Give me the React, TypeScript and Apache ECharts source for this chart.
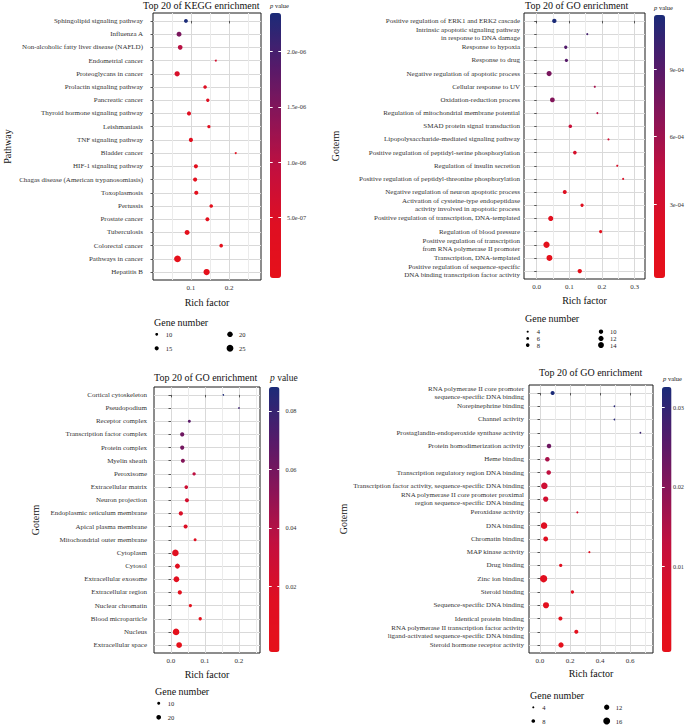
import React, { useEffect, useRef } from 'react';
import * as echarts from 'echarts';

const FONT = '"Liberation Serif", "Times New Roman", serif';
const STOPS = ['#e6101a', '#df0f22', '#c40f3d', '#8d1456', '#551a6a', '#1b2b78'];

// ---------- Panel 1 : KEGG ----------
const keggTerms = [
  'Sphingolipid signaling pathway', 'Influenza A', 'Non-alcoholic fatty liver disease (NAFLD)', 'Endometrial cancer',
  'Proteoglycans in cancer', 'Prolactin signaling pathway', 'Pancreatic cancer', 'Thyroid hormone signaling pathway',
  'Leishmaniasis', 'TNF signaling pathway', 'Bladder cancer', 'HIF-1 signaling pathway',
  'Chagas disease (American trypanosomiasis)', 'Toxoplasmosis', 'Pertussis', 'Prostate cancer',
  'Tuberculosis', 'Colorectal cancer', 'Pathways in cancer', 'Hepatitis B',
];
const keggRich = [0.087, 0.069, 0.072, 0.165, 0.064, 0.137, 0.144, 0.095, 0.147, 0.100, 0.217, 0.113, 0.111, 0.114, 0.153, 0.143, 0.090, 0.179, 0.065, 0.141];
const keggGenes = [14, 18, 17, 7, 19, 13, 12, 15, 12, 15, 7, 15, 15, 15, 13, 14, 18, 13, 25, 23];
const keggP = [2.35e-6, 1.55e-6, 1.0e-6, 6.5e-7, 5.5e-7, 4.5e-7, 4.0e-7, 3.5e-7, 3.0e-7, 2.7e-7, 2.4e-7, 2.0e-7, 1.8e-7, 1.5e-7, 1.2e-7, 1.0e-7, 8e-8, 6e-8, 3e-8, 1e-8];
const keggXMajor = [0.1, 0.2];
const keggXMinor = [0.05, 0.15, 0.25];
const keggPTicks = [5e-7, 1e-6, 1.5e-6, 2e-6];
const keggPLabels = ['5.0e-07', '1.0e-06', '1.5e-06', '2.0e-06'];
const keggSizeLegend = [10, 15, 20, 25];

// ---------- Panel 2 : GO (biological process) ----------
const bpTerms = [
  'Positive regulation of ERK1 and ERK2 cascade',
  'Intrinsic apoptotic signaling pathway\nin response to DNA damage',
  'Response to hypoxia', 'Response to drug', 'Negative regulation of apoptotic process', 'Cellular response to UV',
  'Oxidation-reduction process', 'Regulation of mitochondrial membrane potential', 'SMAD protein signal transduction',
  'Lipopolysaccharide-mediated signaling pathway', 'Positive regulation of peptidyl-serine phosphorylation',
  'Regulation of insulin secretion', 'Positive regulation of peptidyl-threonine phosphorylation',
  'Negative regulation of neuron apoptotic process',
  'Activation of cysteine-type endopeptidase\nactivity involved in apoptotic process',
  'Positive regulation of transcription, DNA-templated', 'Regulation of blood pressure',
  'Positive regulation of transcription\nfrom RNA polymerase II promoter', 'Transcription, DNA-templated',
  'Positive regulation of sequence-specific\nDNA binding transcription factor activity',
];
const bpRich = [0.054, 0.155, 0.089, 0.091, 0.038, 0.178, 0.048, 0.186, 0.103, 0.220, 0.117, 0.247, 0.265, 0.086, 0.139, 0.043, 0.196, 0.030, 0.039, 0.132];
const bpGenes = [10, 4, 7, 7, 12, 4, 11, 4, 8, 4, 8, 4, 4, 9, 7, 12, 7, 15, 14, 10];
const bpP = [1.14e-3, 9.8e-4, 9.2e-4, 9.0e-4, 7.6e-4, 5.8e-4, 7.2e-4, 4.8e-4, 4.0e-4, 3.4e-4, 2.8e-4, 2.6e-4, 2.5e-4, 1.9e-4, 1.6e-4, 9e-5, 7e-5, 3e-5, 1.5e-5, 5e-6];
const bpXMajor = [0, 0.1, 0.2, 0.3];
const bpXMinor = [0.05, 0.15, 0.25];
const bpPTicks = [3e-4, 6e-4, 9e-4];
const bpPLabels = ['3e-04', '6e-04', '9e-04'];
const bpSizeLegend = [4, 6, 8, 10, 12, 14];

// ---------- Panel 3 : GO (cellular component) ----------
const ccTerms = [
  'Cortical cytoskeleton', 'Pseudopodium', 'Receptor complex', 'Transcription factor complex', 'Protein complex',
  'Myelin sheath', 'Peroxisome', 'Extracellular matrix', 'Neuron projection', 'Endoplasmic reticulum membrane',
  'Apical plasma membrane', 'Mitochondrial outer membrane', 'Cytoplasm', 'Cytosol', 'Extracellular exosome',
  'Extracellular region', 'Nuclear chromatin', 'Blood microparticle', 'Nucleus', 'Extracellular space',
];
const ccRich = [0.154, 0.200, 0.054, 0.033, 0.033, 0.035, 0.068, 0.045, 0.047, 0.029, 0.043, 0.071, 0.013, 0.019, 0.016, 0.026, 0.057, 0.086, 0.015, 0.024];
const ccGenes = [2, 2, 10, 17, 17, 16, 12, 14, 16, 17, 16, 10, 31, 22, 26, 17, 12, 12, 31, 26];
const ccP = [0.088, 0.078, 0.068, 0.062, 0.06, 0.055, 0.036, 0.028, 0.024, 0.02, 0.018, 0.014, 0.012, 0.01, 0.008, 0.006, 0.005, 0.004, 0.002, 0.0005];
const ccXMajor = [0, 0.1, 0.2];
const ccXMinor = [0.05, 0.15, 0.25];
const ccPTicks = [0.02, 0.04, 0.06, 0.08];
const ccPLabels = ['0.02', '0.04', '0.06', '0.08'];
const ccSizeLegend = [10, 20];

// ---------- Panel 4 : GO (molecular function) ----------
const mfTerms = [
  'RNA polymerase II core promoter\nsequence-specific DNA binding', 'Norepinephrine binding', 'Channel activity',
  'Prostaglandin-endoperoxide synthase activity', 'Protein homodimerization activity', 'Heme binding',
  'Transcription regulatory region DNA binding', 'Transcription factor activity, sequence-specific DNA binding',
  'RNA polymerase II core promoter proximal\nregion sequence-specific DNA binding', 'Peroxidase activity',
  'DNA binding', 'Chromatin binding', 'MAP kinase activity', 'Drug binding', 'Zinc ion binding', 'Steroid binding',
  'Sequence-specific DNA binding', 'Identical protein binding',
  'RNA polymerase II transcription factor activity\nligand-activated sequence-specific DNA binding',
  'Steroid hormone receptor activity',
];
const mfRich = [0.084, 0.496, 0.496, 0.669, 0.060, 0.049, 0.058, 0.029, 0.038, 0.249, 0.027, 0.038, 0.329, 0.138, 0.024, 0.216, 0.040, 0.136, 0.242, 0.140];
const mfGenes = [9, 3, 3, 3, 10, 10, 10, 15, 12, 4, 15, 11, 4, 7, 17, 7, 14, 9, 9, 12];
const mfP = [0.0326, 0.031, 0.031, 0.029, 0.023, 0.016, 0.013, 0.01, 0.009, 0.008, 0.006, 0.005, 0.0045, 0.004, 0.0035, 0.003, 0.0025, 0.002, 0.0015, 0.001];
const mfXMajor = [0, 0.2, 0.4, 0.6];
const mfXMinor = [0.1, 0.3, 0.5, 0.7];
const mfPTicks = [0.01, 0.02, 0.03];
const mfPLabels = ['0.01', '0.02', '0.03'];
const mfSizeLegend = [4, 8, 12, 16];

// ---------- layout (positions / styles only) ----------
const panels = [
  {
    title: 'Top 20 of KEGG enrichment', yName: 'Pathway',
    terms: keggTerms, rich: keggRich, genes: keggGenes, pvals: keggP,
    xMajor: keggXMajor, xMinor: keggXMinor, pTicks: keggPTicks, pLabels: keggPLabels, sizeLegend: keggSizeLegend,
    xMin: 0.001, xMax: 0.283, pMin: -5e-8, pMax: 2.35e-6,
    grid: [153, 13, 108, 267], cb: [270, 13, 11, 265], titlePos: [143, 0], pTitle: [270, 2, 6.5],
    yNameGap: 141, xNameGap: 17.5, labelMargin: 10, cbMargin: 6,
    legendTitle: [154, 317.5], legend: { x0: 156.7, y0: 334.3, colDx: 73.3, rowDy: 14, perCol: 2 }, size: [0.27, 0.1],
  },
  {
    title: 'Top 20 of GO enrichment', yName: 'Goterm',
    terms: bpTerms, rich: bpRich, genes: bpGenes, pvals: bpP,
    xMajor: bpXMajor, xMinor: bpXMinor, pTicks: bpPTicks, pLabels: bpPLabels, sizeLegend: bpSizeLegend,
    xMin: -0.039, xMax: 0.332, pMin: -2.8e-5, pMax: 1.14e-3,
    grid: [524, 13, 121, 266], cb: [654, 15, 11, 263], titlePos: [525, 0], pTitle: [654, 3.5, 6.5],
    yNameGap: 184, xNameGap: 16.5, labelMargin: 4, cbMargin: 8,
    legendTitle: [525, 313.5], legend: { x0: 527.7, y0: 331.7, colDx: 73.3, rowDy: 6.7, perCol: 3 }, size: [0.38, 0.6],
  },
  {
    title: 'Top 20 of GO enrichment', yName: 'Goterm',
    terms: ccTerms, rich: ccRich, genes: ccGenes, pvals: ccP,
    xMajor: ccXMajor, xMinor: ccXMinor, pTicks: ccPTicks, pLabels: ccPLabels, sizeLegend: ccSizeLegend,
    xMin: -0.05, xMax: 0.262, pMin: -0.0025, pMax: 0.0882,
    grid: [154, 387, 106, 266], cb: [269, 387, 10.5, 265], titlePos: [154, 372], pTitle: [270, 372.5, 9.5],
    yNameGap: 114, xNameGap: 16.3, labelMargin: 7, cbMargin: 6,
    legendTitle: [155, 686.5], legend: { x0: 158.7, y0: 703.3, colDx: 0, rowDy: 14, perCol: 2 }, size: [0.17, 1.3],
  },
  {
    title: 'Top 20 of GO enrichment', yName: 'Goterm',
    terms: mfTerms, rich: mfRich, genes: mfGenes, pvals: mfP,
    xMajor: mfXMajor, xMinor: mfXMinor, pTicks: mfPTicks, pLabels: mfPLabels, sizeLegend: mfSizeLegend,
    xMin: -0.0733, xMax: 0.753, pMin: -0.0008, pMax: 0.0326,
    grid: [529, 385, 124, 268], cb: [662, 387, 9.5, 265], titlePos: [539, 367.5], pTitle: [663, 375, 6.5],
    yNameGap: 172, xNameGap: 15.6, labelMargin: 5, cbMargin: 6,
    legendTitle: [530, 690.5], legend: { x0: 533.3, y0: 707.3, colDx: 73.4, rowDy: 13.7, perCol: 2 }, size: [0.4, 0.5],
  },
];

const MAJOR_LINE = { color: '#d9d9d9', width: 1 };
const MINOR_LINE = { color: '#ebebeb', width: 1 };
const Y_LO = -0.6;

const sz = (s: number[], n: number) => Math.max(1.5, s[0] * n + s[1]);

function buildOption() {
  const grid: any[] = [];
  const xAxis: any[] = [];
  const yAxis: any[] = [];
  const series: any[] = [];
  const visualMap: any[] = [];
  const title: any[] = [];
  const elements: any[] = [];
  const n = panels.length;

  panels.forEach((P, i) => {
    const idx = P.terms.map((_, k) => k);
    const yHi = P.terms.length - 1 - Y_LO;
    grid[i] = {
      left: P.grid[0], top: P.grid[1], width: P.grid[2], height: P.grid[3],
      show: true, borderColor: '#1a1a1a', borderWidth: 1, backgroundColor: 'rgba(0,0,0,0)',
    };
    grid[n + i] = { left: P.cb[0], top: P.cb[1], width: P.cb[2], height: P.cb[3], show: false };

    // main x axis: labels, ticks and major grid lines
    xAxis[i] = {
      type: 'value', gridIndex: i, min: P.xMin, max: P.xMax, position: 'bottom',
      name: 'Rich factor', nameLocation: 'middle', nameGap: P.xNameGap,
      nameTextStyle: { fontFamily: FONT, fontSize: 10, color: '#111' },
      axisLine: { show: false },
      axisTick: { show: true, length: 2.5, customValues: P.xMajor, lineStyle: { color: '#333', width: 0.8 } },
      axisLabel: {
        customValues: P.xMajor, formatter: (v: number) => v.toFixed(1),
        fontFamily: FONT, fontSize: 7, color: '#333', margin: 4,
      },
      splitLine: { show: true, lineStyle: MAJOR_LINE },
    };
    // companion x axis on the same scale: minor grid lines only
    xAxis[n + i] = {
      type: 'value', gridIndex: i, min: P.xMin, max: P.xMax, position: 'top',
      axisLine: { show: false },
      axisTick: { show: false, customValues: P.xMinor },
      axisLabel: { show: false },
      splitLine: { show: true, lineStyle: MINOR_LINE },
    };
    xAxis[2 * n + i] = { type: 'value', gridIndex: n + i, min: 0, max: 1, show: false };

    yAxis[i] = {
      type: 'value', gridIndex: i, inverse: true, min: Y_LO, max: yHi,
      name: P.yName, nameLocation: 'middle', nameGap: P.yNameGap,
      nameTextStyle: { fontFamily: FONT, fontSize: 10, color: '#111' },
      axisLine: { show: false },
      axisTick: { show: true, length: 2.5, customValues: idx, lineStyle: { color: '#333', width: 0.8 } },
      axisLabel: {
        customValues: idx, formatter: (v: number) => P.terms[Math.round(v)] ?? '',
        fontFamily: FONT, fontSize: 7, color: '#333', margin: P.labelMargin, lineHeight: 7.6,
      },
      splitLine: { show: true, lineStyle: MAJOR_LINE },
    };
    yAxis[n + i] = {
      type: 'value', gridIndex: n + i, min: P.pMin, max: P.pMax, position: 'right', z: 10,
      axisLine: { show: false },
      axisTick: { show: false, customValues: P.pTicks },
      axisLabel: {
        customValues: P.pTicks,
        formatter: (v: number) => {
          const k = P.pTicks.findIndex((t) => Math.abs(t - v) < Math.abs(t) * 1e-6);
          return k >= 0 ? P.pLabels[k] : '';
        },
        fontFamily: FONT, fontSize: 6.3, color: '#333', margin: P.cbMargin,
      },
      splitLine: { show: true, lineStyle: { color: '#ffffff', width: 1, type: [2.7, 5.6] } },
    };

    series.push({
      type: 'scatter', name: 'points' + i, xAxisIndex: i, yAxisIndex: i, silent: true, z: 5,
      data: P.terms.map((t, k) => [P.rich[k], k, P.genes[k], P.pvals[k]]),
      symbol: 'circle',
      symbolSize: (val: number[]) => sz(P.size, val[2]),
      itemStyle: { opacity: 1 },
    });

    visualMap.push({
      type: 'continuous', seriesIndex: i, dimension: 3, min: P.pMin, max: P.pMax,
      inRange: { color: STOPS }, orient: 'vertical', left: P.cb[0], top: P.cb[1],
      itemWidth: P.cb[2], itemHeight: P.cb[3], padding: 0, calculable: false, hoverLink: false,
      z: 2,
    });

    title.push({
      text: P.title, left: P.titlePos[0], top: P.titlePos[1], padding: 0,
      textStyle: { fontFamily: FONT, fontSize: 10, fontWeight: 'normal', color: '#111' },
    });
    title.push({
      text: '{i|p} value', left: P.pTitle[0], top: P.pTitle[1], padding: 0,
      textStyle: {
        fontFamily: FONT, fontSize: P.pTitle[2], fontWeight: 'normal', color: '#222',
        rich: { i: { fontFamily: FONT, fontSize: P.pTitle[2], fontStyle: 'italic', color: '#222' } },
      },
    });
    title.push({
      text: 'Gene number', left: P.legendTitle[0], top: P.legendTitle[1], padding: 0,
      textStyle: { fontFamily: FONT, fontSize: 10, fontWeight: 'normal', color: '#111' },
    });

    P.sizeLegend.forEach((v, k) => {
      const col = Math.floor(k / P.legend.perCol);
      const row = k % P.legend.perCol;
      const cx = P.legend.x0 + col * P.legend.colDx;
      const cy = P.legend.y0 + row * P.legend.rowDy;
      elements.push({ type: 'circle', silent: true, shape: { cx, cy, r: sz(P.size, v) / 2 }, style: { fill: '#000' } });
      elements.push({
        type: 'text', silent: true, x: cx + 9, y: cy,
        style: { text: String(v), fontFamily: FONT, fontSize: 6.5, fill: '#222', textVerticalAlign: 'middle', verticalAlign: 'middle' },
      });
    });
  });

  return {
    animation: false,
    backgroundColor: '#ffffff',
    textStyle: { fontFamily: FONT },
    title, grid, xAxis, yAxis, series, visualMap,
    graphic: { elements },
  };
}

export default function App() {
  const ref = useRef<HTMLDivElement>(null);
  useEffect(() => {
    if (!ref.current) return;
    const chart = echarts.init(ref.current, undefined, { renderer: 'svg' });
    chart.setOption(buildOption() as any);
    return () => chart.dispose();
  }, []);
  return (
    <div
      ref={ref}
      style={{ position: 'fixed', left: 0, top: 0, width: 687, height: 726, background: '#fff' }}
    />
  );
}
